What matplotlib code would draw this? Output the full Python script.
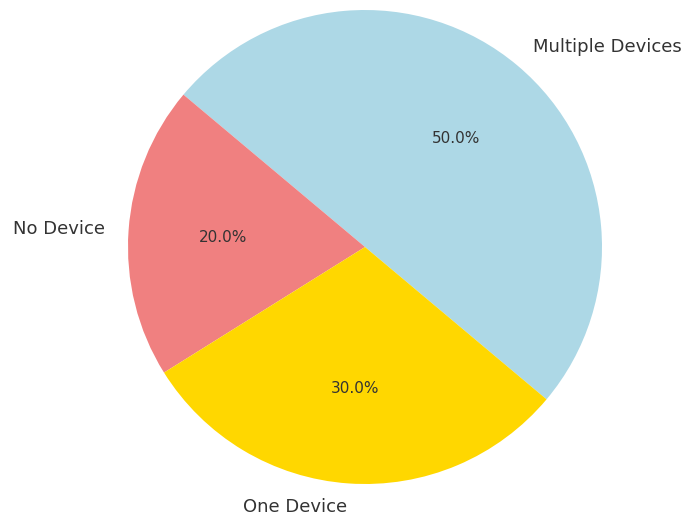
import matplotlib
matplotlib.use("Agg")
import matplotlib.pyplot as plt

labels = ["Multiple Devices", "No Device", "One Device"]
shares = [50, 20, 30]
colors = ["lightblue", "lightcoral", "gold"]

fig = plt.figure(figsize=(6.82, 5.13), dpi=100)
# axes sized so the unit circle sits where the reference pie is
ax = fig.add_axes([(365 - 237) / 682, (513 - 247 - 237) / 513, 474 / 682, 474 / 513])
ax.pie(shares, labels=labels, colors=colors, autopct="%1.1f%%", startangle=-40,
       textprops={"color": "#333333", "fontsize": 13})
for t in ax.texts:
    if t.get_text().endswith("%"):
        t.set_fontsize(11)
ax.set_xlim(-1, 1)
ax.set_ylim(-1, 1)
ax.set_aspect("auto")
ax.axis("off")

fig.savefig("out.png", dpi=100)
